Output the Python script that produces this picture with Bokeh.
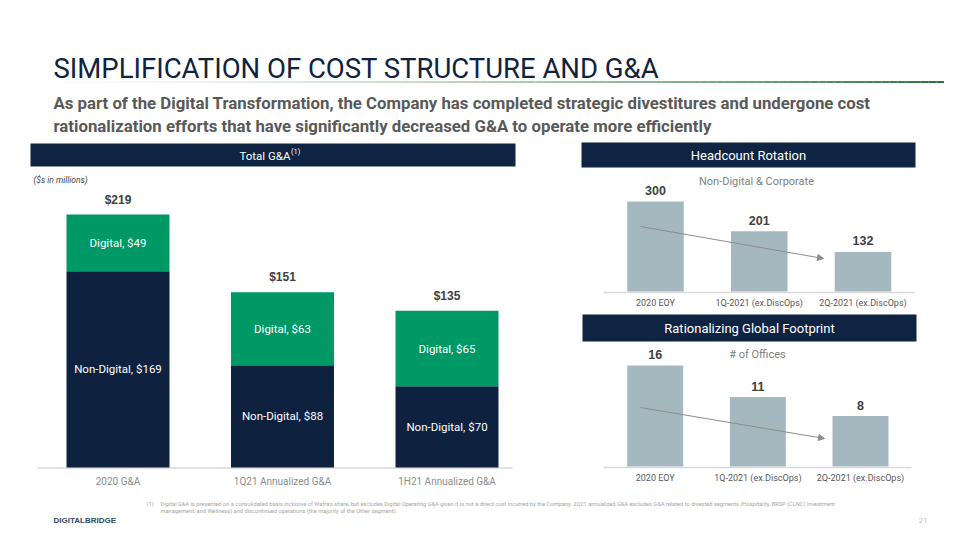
from bokeh.plotting import figure
from bokeh.models import Range1d, Arrow, NormalHead
from bokeh.core.properties import value
from bokeh.embed import file_html
from bokeh.resources import INLINE

# ---------------- data ----------------
ga_categories = ["2020 G&A", "1Q21 Annualized G&A", "1H21 Annualized G&A"]
ga_non_digital = [169, 88, 70]
ga_digital = [49, 63, 65]
ga_totals = [219, 151, 135]

hc_categories = ["2020 EOY", "1Q-2021 (ex.DiscOps)", "2Q-2021 (ex.DiscOps)"]
hc_values = [300, 201, 132]

office_categories = ["2020 EOY", "1Q-2021 (ex.DiscOps)", "2Q-2021 (ex.DiscOps)"]
office_values = [16, 11, 8]

# ---------------- styles ----------------
NAVY = "#0E2240"
HEADER = "#0F2443"
GREEN = "#009966"
BARGRAY = "#A6B8BF"
NARROW = value("Roboto")
SANS = value("Liberation Sans")

W, H = 944, 524
X0, Y0 = 0, 0

p = figure(width=W, height=H, x_range=Range1d(X0, X0 + W), y_range=Range1d(Y0 + H, Y0),
           output_backend="svg", toolbar_location=None, min_border=0,
           x_axis_location=None, y_axis_location=None, outline_line_color=None,
           background_fill_color="white", border_fill_color="white")
p.grid.visible = False


def lin_range(v_a, p_a, v_b, p_b, p_lo, p_hi):
    k = (v_b - v_a) / (p_b - p_a)
    return Range1d(start=v_a + (p_lo - p_a) * k, end=v_a + (p_hi - p_a) * k)


p.extra_x_ranges = {
    "ga": lin_range(0, 117.5, 2, 446.5, X0, X0 + W),
    "hc": lin_range(0, 655.0, 2, 862.5, X0, X0 + W),
    "of": lin_range(0, 654.7, 2, 860.0, X0, X0 + W),
}
p.extra_y_ranges = {
    "ga": lin_range(0, 467, 218, 214, Y0 + H, Y0),
    "hc": lin_range(0, 291, 300, 201, Y0 + H, Y0),
    "of": lin_range(0, 466, 16, 365, Y0 + H, Y0),
}


def page_text(x, y, text, size, color, font=NARROW, style="normal", align="left", baseline="middle"):
    p.text(x=[x], y=[y], text=[text], text_font=font, text_font_size=size, text_color=color,
           text_font_style=style, text_align=align, text_baseline=baseline)


# ---------------- title area ----------------
page_text(53, 68, "SIMPLIFICATION OF COST STRUCTURE AND G&A", "27.5px", "#0F2341", baseline="alphabetic")

n_seg = 120
xs = [X0 + W * i / n_seg for i in range(n_seg + 1)]
cols = []
for i in range(n_seg):
    t = ((i + 0.5) / n_seg) ** 1.6
    r = int(255 + (45 - 255) * t)
    g = int(255 + (118 - 255) * t)
    b = int(255 + (55 - 255) * t)
    cols.append("#%02x%02x%02x" % (r, g, b))
p.segment(x0=xs[:-1], y0=[81.5] * n_seg, x1=xs[1:], y1=[81.5] * n_seg, line_color=cols, line_width=2)

page_text(53, 102, "As part of the Digital Transformation, the Company has completed strategic divestitures and undergone cost",
          "16.8px", "#595959", style="bold", baseline="alphabetic")
page_text(53, 125, "rationalization efforts that have significantly decreased G&A to operate more efficiently",
          "16.8px", "#595959", style="bold", baseline="alphabetic")

# ---------------- header bars ----------------
p.quad(left=[30, 581, 582], right=[515, 915, 916], top=[143, 142, 314], bottom=[166, 167, 341],
       fill_color=HEADER, line_color=None)
page_text(290, 155, "Total G&A", "11.5px", "white", align="right")
page_text(290.5, 151, "(1)", "7.5px", "white")
page_text(748, 155, "Headcount Rotation", "13px", "white", align="center")
page_text(749, 328, "Rationalizing Global Footprint", "13px", "white", align="center")

page_text(33, 179, "($s in millions)", "8.5px", "#404040", style="italic")
page_text(756, 181, "Non-Digital & Corporate", "11px", "#7F7F7F", align="center")
page_text(757, 354, "# of Offices", "11px", "#7F7F7F", align="center")

# ---------------- Total G&A stacked bars ----------------
ga_x = list(range(len(ga_categories)))
ga_stack_top = [a + b for a, b in zip(ga_non_digital, ga_digital)]
p.segment(x0=[37], y0=[467.5], x1=[512], y1=[467.5], line_color="#D9D9D9", line_width=1.5)
p.vbar(x=ga_x, bottom=0, top=ga_non_digital, width=0.626, fill_color=NAVY, line_color=None,
       x_range_name="ga", y_range_name="ga")
p.vbar(x=ga_x, bottom=ga_non_digital, top=ga_stack_top, width=0.626, fill_color=GREEN, line_color=None,
       x_range_name="ga", y_range_name="ga")
p.text(x=ga_x, y=[v / 2 for v in ga_non_digital], text=["Non-Digital, $%d" % v for v in ga_non_digital],
       text_font=NARROW, text_font_size="11.5px", text_color="white", text_align="center",
       text_baseline="middle", x_range_name="ga", y_range_name="ga")
p.text(x=ga_x, y=[a + b / 2 for a, b in zip(ga_non_digital, ga_digital)],
       text=["Digital, $%d" % v for v in ga_digital],
       text_font=NARROW, text_font_size="11.5px", text_color="white", text_align="center",
       text_baseline="middle", x_range_name="ga", y_range_name="ga")
p.text(x=ga_x, y=ga_stack_top, text=["$%d" % v for v in ga_totals], y_offset=-15,
       text_font=SANS, text_font_size="12px", text_font_style="bold", text_color="#404040",
       text_align="center", text_baseline="middle", x_range_name="ga", y_range_name="ga")
p.text(x=ga_x, y=[0] * len(ga_x), text=ga_categories, y_offset=14,
       text_font=NARROW, text_font_size="10px", text_color="#8C8C8C",
       text_align="center", text_baseline="middle", x_range_name="ga", y_range_name="ga")

# ---------------- Headcount bars ----------------
hc_x = list(range(len(hc_categories)))
p.segment(x0=[603], y0=[292], x1=[914], y1=[292], line_color="#D9D9D9", line_width=1.5)
p.vbar(x=hc_x, top=hc_values, bottom=0, width=0.545, fill_color=BARGRAY, line_color=None,
       x_range_name="hc", y_range_name="hc")
p.text(x=hc_x, y=hc_values, text=[str(v) for v in hc_values], y_offset=-11,
       text_font=SANS, text_font_size="12.5px", text_font_style="bold", text_color="#404040",
       text_align="center", text_baseline="middle", x_range_name="hc", y_range_name="hc")
p.text(x=hc_x, y=[0] * len(hc_x), text=hc_categories, y_offset=11,
       text_font=NARROW, text_font_size="9px", text_color="#595959",
       text_align="center", text_baseline="middle", x_range_name="hc", y_range_name="hc")
p.add_layout(Arrow(x_start=640, y_start=226, x_end=823, y_end=258, line_color="#8C8C8C", line_width=1,
                   end=NormalHead(size=6, fill_color="#8C8C8C", line_color="#8C8C8C")))

# ---------------- Offices bars ----------------
of_x = list(range(len(office_categories)))
p.segment(x0=[603], y0=[467], x1=[911], y1=[467], line_color="#D9D9D9", line_width=1.5)
p.vbar(x=of_x, top=office_values, bottom=0, width=0.545, fill_color=BARGRAY, line_color=None,
       x_range_name="of", y_range_name="of")
p.text(x=of_x, y=office_values, text=[str(v) for v in office_values], y_offset=-11,
       text_font=SANS, text_font_size="12.5px", text_font_style="bold", text_color="#404040",
       text_align="center", text_baseline="middle", x_range_name="of", y_range_name="of")
p.text(x=of_x, y=[0] * len(of_x), text=office_categories, y_offset=11,
       text_font=NARROW, text_font_size="9px", text_color="#595959",
       text_align="center", text_baseline="middle", x_range_name="of", y_range_name="of")
p.add_layout(Arrow(x_start=640, y_start=407, x_end=824, y_end=438, line_color="#8C8C8C", line_width=1,
                   end=NormalHead(size=6, fill_color="#8C8C8C", line_color="#8C8C8C")))

# ---------------- footer ----------------
page_text(146, 503, "(1)", "5.7px", "#A6A6A6")
page_text(160, 503, "Digital G&A is presented on a consolidated basis inclusive of Wafra's share, but excludes Digital "
                    "Operating G&A given it is not a direct cost incurred by the Company. 2Q21 annualized G&A excludes "
                    "G&A related to divested segments (Hospitality, BRSP (CLNC) investment", "5.7px", "#A6A6A6")
page_text(160, 510.5, "management, and Wellness) and discontinued operations (the majority of the Other segment).",
          "5.7px", "#A6A6A6")
page_text(53, 520, "DIGITALBRIDGE", "8px", "#2F4A62", font=SANS, style="bold")
page_text(918, 520, "21", "8px", "#BFBFBF")

open("out.html", "w").write(file_html(p, INLINE))
